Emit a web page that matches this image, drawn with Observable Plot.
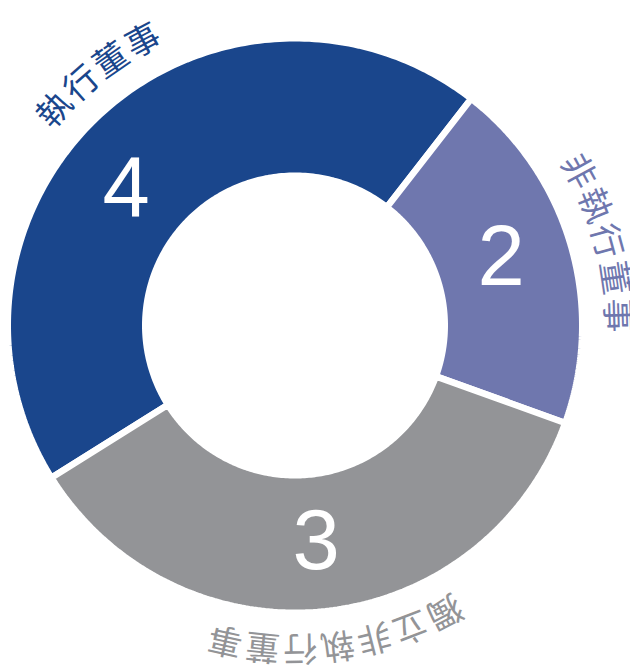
<!DOCTYPE html>
<html>
<head>
<meta charset="utf-8">
<script src="https://cdn.jsdelivr.net/npm/d3@7"></script>
<script src="https://cdn.jsdelivr.net/npm/@observablehq/plot@0.6"></script>
<style>
  html, body { margin: 0; padding: 0; background: #ffffff; }
  svg { display: block; }
</style>
</head>
<body>
<div id="chart"></div>
<script>
// ---- data ----
const categories = ["執行董事", "非執行董事", "獨立非執行董事"];
const counts = [4, 2, 3];
// share of the ring each slice covers as drawn (percent)
const ringShares = [44.4, 20.0, 35.6];
const sliceColors = ["#1a468c", "#6f77ae", "#939497"];

// ---- layout ----
const W = 630, H = 665;
const cx = 294.5, cy = 325;          // ring centre in pixels
const gap = 6.5;                      // white separator width
const rOuter = 284 + gap / 2, rInner = 153 - gap / 2;
const rNumber = 217, rLabel = 322;
const charAdvance = 37.5;             // px along the arc per character
const startDeg = 238;
// hand placement of the original artwork relative to slice middles (degrees)
const numberShiftDeg = [-9, -2, 0.5];
const labelShiftDeg = [4, 1, -1.5];

const toRad = d => d * Math.PI / 180;
const pie = d3.pie().sort(null).value((d, i) => ringShares[i])
  .startAngle(toRad(startDeg)).endAngle(toRad(startDeg + 360));
const arcs = pie(categories);

// polygon outlines of every slice (sampled arcs)
const slicePts = [];
arcs.forEach(a => {
  const n = 160;
  const ring = [];
  for (let k = 0; k <= n; k++) {
    const t = a.startAngle + (a.endAngle - a.startAngle) * k / n;
    ring.push([rOuter * Math.sin(t), rOuter * Math.cos(t)]);
  }
  for (let k = n; k >= 0; k--) {
    const t = a.startAngle + (a.endAngle - a.startAngle) * k / n;
    ring.push([rInner * Math.sin(t), rInner * Math.cos(t)]);
  }
  ring.push(ring[0]);
  ring.forEach(([x, y]) => slicePts.push({name: a.data, x, y}));
});

// count labels at slice centroids
const numberRows = arcs.map((a, i) => {
  const t = (a.startAngle + a.endAngle) / 2 + toRad(numberShiftDeg[i]);
  return {name: a.data, value: String(counts[i]), x: rNumber * Math.sin(t), y: rNumber * Math.cos(t)};
});

// curved category labels, one glyph per text mark, rotated along the circle
const charRows = [];
arcs.forEach((a, j) => {
  const mid = (a.startAngle + a.endAngle) / 2 + toRad(labelShiftDeg[j]);
  const chars = Array.from(a.data);
  const step = charAdvance / rLabel;
  chars.forEach((ch, i) => {
    const t = mid + (i - (chars.length - 1) / 2) * step;
    charRows.push({
      name: a.data, ch,
      x: rLabel * Math.sin(t), y: rLabel * Math.cos(t),
      rot: ((t * 180 / Math.PI) % 360 + 360) % 360
    });
  });
});

const chart = Plot.plot({
  width: W,
  height: H,
  margin: 0,
  x: {domain: [-cx, W - cx], range: [0, W], axis: null},
  y: {domain: [-(H - cy), cy], range: [H, 0], axis: null},
  color: {domain: categories, range: sliceColors},
  style: {background: "#ffffff", overflow: "visible"},
  marks: [
    Plot.line(slicePts, {
      x: "x", y: "y", z: "name", fill: "name",
      stroke: "#ffffff", strokeWidth: gap, strokeLinejoin: "miter",
      curve: "linear"
    }),
    Plot.text(numberRows, {
      x: "x", y: "y", text: "value", fill: "#ffffff",
      fontSize: 85, fontFamily: "'Liberation Sans', Arial, sans-serif"
    }),
    Plot.text(charRows, {
      x: "x", y: "y", text: "ch", rotate: "rot", fill: "name",
      fontSize: 34, fontWeight: 400,
      fontFamily: "'Noto Sans CJK TC', 'Noto Sans CJK SC', sans-serif"
    })
  ]
});
document.getElementById("chart").appendChild(chart);
</script>
</body>
</html>
